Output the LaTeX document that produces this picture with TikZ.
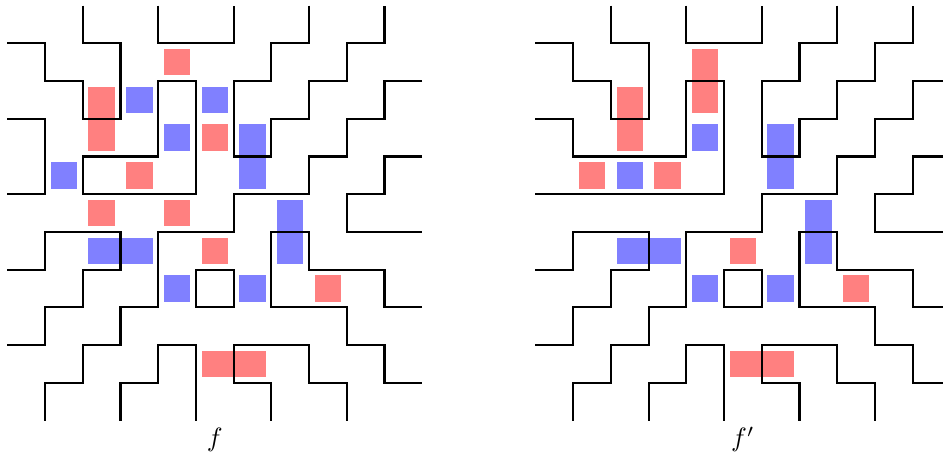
\documentclass[tikz,border=0pt]{standalone}
\tikzset{
  wall/.style={black, line width=0.8pt, line join=miter},
  redfill/.style={fill=red!50},
  bluefill/.style={fill=blue!50},
}
\newcommand\mysq[3]{\fill[#1] (#2+0.15,#3+0.15) rectangle ++(0.7,0.7);}
\newcommand\myhdom[3]{\fill[#1] (#2+0.15,#3+0.15) rectangle ++(1.7,0.7);}
\newcommand\myvdom[3]{\fill[#1] (#2+0.15,#3+0.15) rectangle ++(0.7,1.7);}
\newcommand\mywalls{%
  \draw[wall] (2,0)--(2,1)--(3,1)--(3,3)--(2,3)--(2,2)--(1,2)--(1,1)--(0,1);
  \draw[wall] (4,0)--(4,1)--(6,1)--(6,0);
  \draw[wall] (8,0)--(8,1)--(7,1)--(7,2)--(6,2)--(6,4)--(7,4)--(7,3)--(8,3)--(8,2)--(9,2)--(9,1)--(10,1)--(10,0);
  \draw[wall] (11,2)--(10,2)--(10,3)--(9,3)--(9,4)--(8,4)--(8,5)--(6,5)--(6,6)--(4,6)--(4,8)--(3,8)--(3,9)--(2,9)--(2,10)--(1,10)--(1,11);
  \draw[wall] (11,4)--(10,4)--(10,5)--(9,5)--(9,6)--(11,6);
  \draw[wall] (0,7)--(1,7)--(1,6)--(3,6)--(3,7)--(2,7)--(2,8)--(1,8)--(1,9)--(0,9);
  \draw[wall] (3,11)--(3,10)--(4,10)--(4,9)--(5,9)--(5,11);
  \draw[wall] (11,8)--(10,8)--(10,7)--(8,7)--(8,6)--(7,6)--(7,8)--(9,8)--(9,9)--(10,9)--(10,10)--(11,10);
  \draw[wall] (7,11)--(7,10)--(6,10)--(6,9)--(8,9)--(8,10)--(9,10)--(9,11);
  \draw[wall] (5,7) rectangle (6,8);
}
\begin{document}
\begin{tikzpicture}[x=0.5cm, y=-0.5cm]
\useasboundingbox (-0.194,-0.150) rectangle (24.806,11.939);
\clip (-0.194,-0.150) rectangle (24.806,11.939);
% ---------- left panel: f ----------
\begin{scope}
  \mysq{redfill}{4}{1}
  \mysq{redfill}{5}{3}
  \mysq{redfill}{3}{4}
  \mysq{redfill}{2}{5}
  \mysq{redfill}{4}{5}
  \mysq{redfill}{5}{6}
  \mysq{redfill}{8}{7}
  \myvdom{redfill}{2}{2}
  \myhdom{redfill}{5}{9}
  \mysq{bluefill}{3}{2}
  \mysq{bluefill}{5}{2}
  \mysq{bluefill}{4}{3}
  \mysq{bluefill}{1}{4}
  \mysq{bluefill}{4}{7}
  \mysq{bluefill}{6}{7}
  \myvdom{bluefill}{6}{3}
  \myvdom{bluefill}{7}{5}
  \myhdom{bluefill}{2}{6}
  \mywalls
  \draw[wall] (0,3)--(1,3)--(1,5)--(0,5);
  \draw[wall] (2,4)--(4,4)--(4,2)--(5,2)--(5,5)--(2,5)--cycle;
  \node[anchor=base] (lf) at (5.5,11.695) {$f$};
\end{scope}
% ---------- right panel: f' ----------
\begin{scope}[shift={(14,0)}]
  \myvdom{redfill}{4}{1}
  \myvdom{redfill}{2}{2}
  \mysq{redfill}{1}{4}
  \mysq{redfill}{3}{4}
  \mysq{redfill}{5}{6}
  \mysq{redfill}{8}{7}
  \myhdom{redfill}{5}{9}
  \mysq{bluefill}{4}{3}
  \mysq{bluefill}{2}{4}
  \mysq{bluefill}{4}{7}
  \mysq{bluefill}{6}{7}
  \myvdom{bluefill}{6}{3}
  \myvdom{bluefill}{7}{5}
  \myhdom{bluefill}{2}{6}
  \mywalls
  \draw[wall] (0,3)--(1,3)--(1,4)--(4,4)--(4,2)--(5,2)--(5,5)--(0,5);
  \node[anchor=base] (rf) at (5.5,11.695) {$f'$};
\end{scope}
\end{tikzpicture}
\end{document}
